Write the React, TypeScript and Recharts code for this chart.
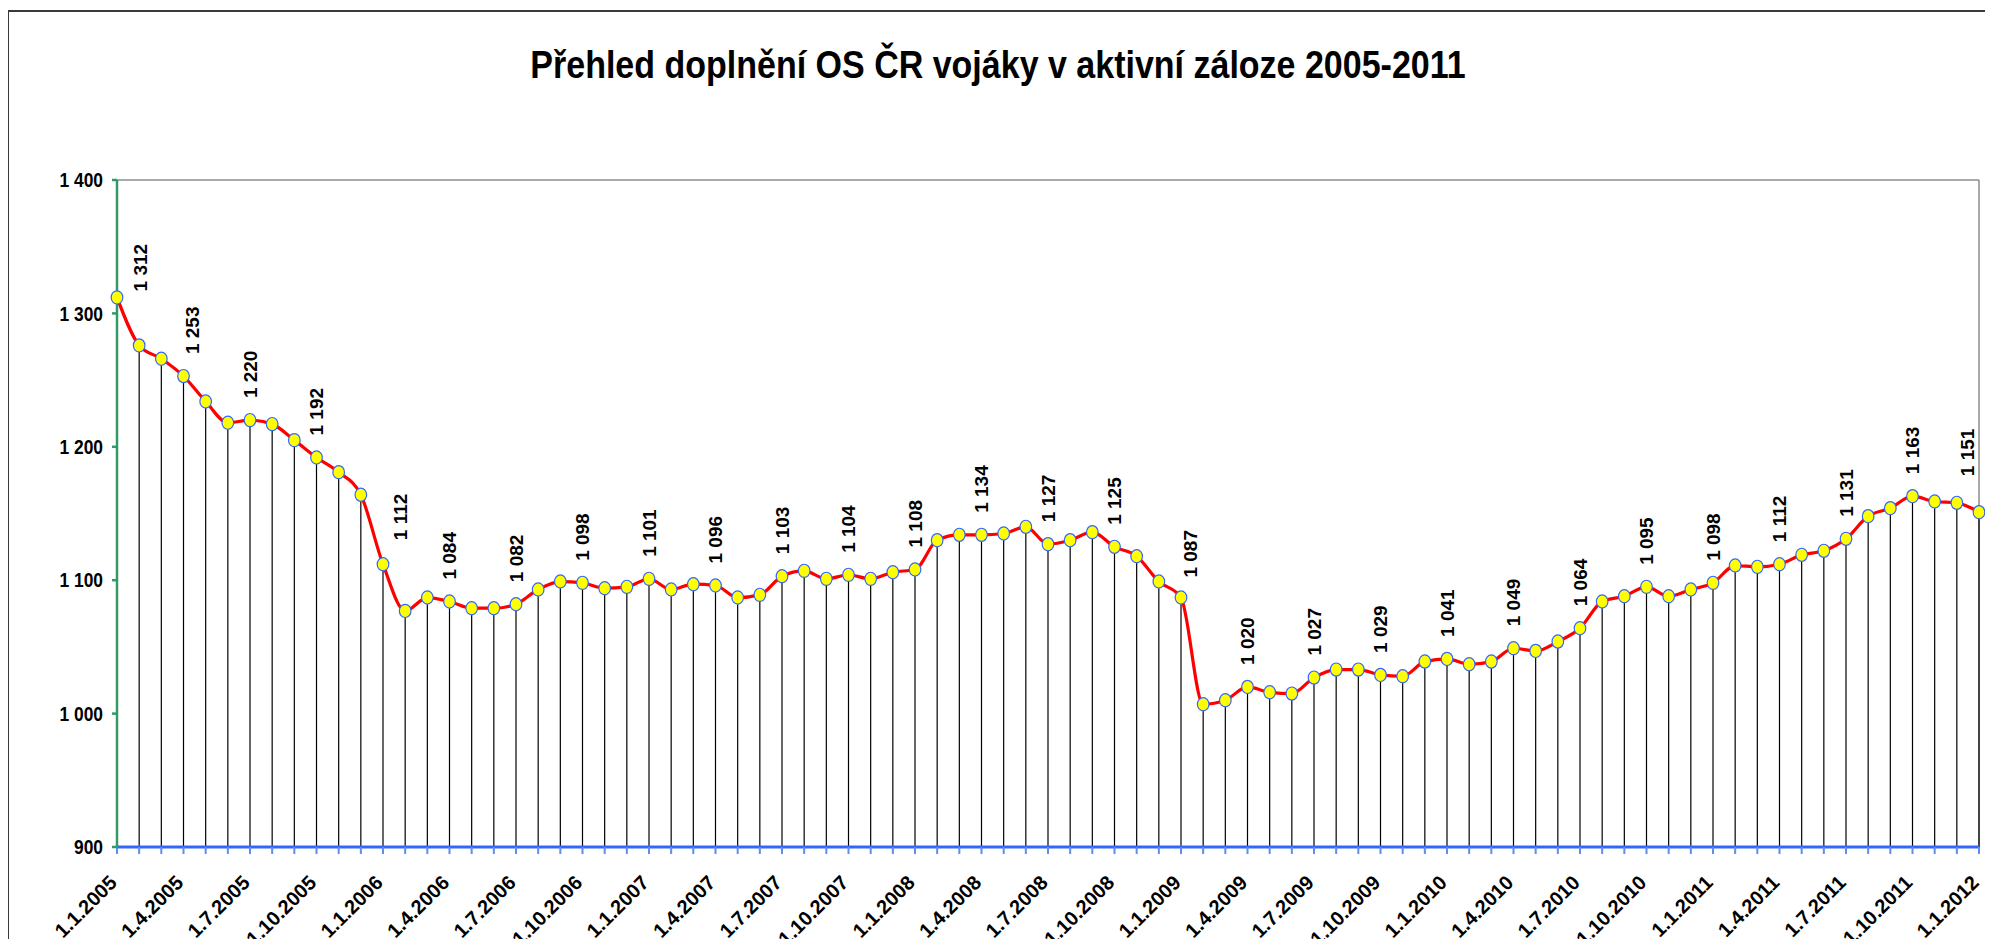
import React from "react";
import { LineChart, Line, XAxis, YAxis, ReferenceLine, LabelList } from "recharts";

const categories: string[] = [
  "1.1.2005","1.2.2005","1.3.2005","1.4.2005","1.5.2005","1.6.2005","1.7.2005","1.8.2005","1.9.2005","1.10.2005","1.11.2005","1.12.2005",
  "1.1.2006","1.2.2006","1.3.2006","1.4.2006","1.5.2006","1.6.2006","1.7.2006","1.8.2006","1.9.2006","1.10.2006","1.11.2006","1.12.2006",
  "1.1.2007","1.2.2007","1.3.2007","1.4.2007","1.5.2007","1.6.2007","1.7.2007","1.8.2007","1.9.2007","1.10.2007","1.11.2007","1.12.2007",
  "1.1.2008","1.2.2008","1.3.2008","1.4.2008","1.5.2008","1.6.2008","1.7.2008","1.8.2008","1.9.2008","1.10.2008","1.11.2008","1.12.2008",
  "1.1.2009","1.2.2009","1.3.2009","1.4.2009","1.5.2009","1.6.2009","1.7.2009","1.8.2009","1.9.2009","1.10.2009","1.11.2009","1.12.2009",
  "1.1.2010","1.2.2010","1.3.2010","1.4.2010","1.5.2010","1.6.2010","1.7.2010","1.8.2010","1.9.2010","1.10.2010","1.11.2010","1.12.2010",
  "1.1.2011","1.2.2011","1.3.2011","1.4.2011","1.5.2011","1.6.2011","1.7.2011","1.8.2011","1.9.2011","1.10.2011","1.11.2011","1.12.2011",
  "1.1.2012",
];

const reservists: number[] = [
  1312, 1276, 1266, 1253, 1234, 1218, 1220, 1217, 1205, 1192, 1181, 1164,
  1112, 1077, 1087, 1084, 1079, 1079, 1082, 1093, 1099, 1098, 1094, 1095,
  1101, 1093, 1097, 1096, 1087, 1089, 1103, 1107, 1101, 1104, 1101, 1106,
  1108, 1130, 1134, 1134, 1135, 1140, 1127, 1130, 1136, 1125, 1118, 1099,
  1087, 1007, 1010, 1020, 1016, 1015, 1027, 1033, 1033, 1029, 1028, 1039,
  1041, 1037, 1039, 1049, 1047, 1054, 1064, 1084, 1088, 1095, 1088, 1093,
  1098, 1111, 1110, 1112, 1119, 1122, 1131, 1148, 1154, 1163, 1159, 1158,
  1151,
];

const yTicks: number[] = [900, 1000, 1100, 1200, 1300, 1400];

const title = "Přehled doplnění OS ČR vojáky v aktivní záloze 2005-2011";

const data = categories.map((c, i) => ({ date: c, value: reservists[i] }));

const FONT = "'Liberation Sans', Arial, Helvetica, sans-serif";

const fmt = (v: number) => {
  const s = String(Math.round(v));
  return s.replace(/\B(?=(\d{3})+(?!\d))/g, " ");
};

const YTick = (props: any) => {
  const { x, y, payload } = props;
  return (
    <text
      transform={`translate(${x},${y}) scale(0.87,1)`}
      textAnchor="end"
      dy="0.36em"
      fontFamily={FONT}
      fontWeight="bold"
      fontSize={20}
      fill="#000"
    >
      {fmt(payload.value)}
    </text>
  );
};

const XTick = (props: any) => {
  const { x, y, payload } = props;
  const idx = payload?.index ?? props.index;
  if (idx % 3 !== 0) return null;
  return (
    <text
      transform={`translate(${x + 1},${y + 28}) rotate(-45)`}
      textAnchor="end"
      fontFamily={FONT}
      fontWeight="bold"
      fontSize={20}
      fill="#000"
    >
      {payload.value}
    </text>
  );
};

const labelShift: Record<number, { dx: number; dy: number }> = {
  0: { dx: 23, dy: 16 },
  3: { dx: 9, dy: 0 },
  12: { dx: 17, dy: -2 },
  48: { dx: 9, dy: 2 },
  84: { dx: -12, dy: -14 },
};

const ValueLabel = (props: any) => {
  const { x, y, value, index } = props;
  if (index % 3 !== 0) return null;
  const s = labelShift[index] || { dx: 0, dy: 0 };
  return (
    <text
      transform={`translate(${x + s.dx},${y - 22 + s.dy}) rotate(-90)`}
      textAnchor="start"
      dy="0.36em"
      fontFamily={FONT}
      fontWeight="bold"
      fontSize={19}
      fill="#000"
    >
      {fmt(value)}
    </text>
  );
};

const Dot = (props: any) => {
  const { cx, cy, index } = props;
  if (cx == null || cy == null) return null;
  return (
    <ellipse
      key={`d${index}`}
      cx={cx}
      cy={cy}
      rx={5.8}
      ry={6.6}
      fill="#ffff00"
      stroke="#3366ff"
      strokeWidth={1.2}
    />
  );
};

export default function App() {
  return (
    <div
      style={{
        position: "relative",
        left: -1,
        top: 2,
        width: 2000,
        height: 1000,
        border: "2px solid #3a3a3a",
        background: "#fff",
      }}
    >
      <svg
        width={2000}
        height={120}
        style={{ position: "absolute", left: 0, top: 0, pointerEvents: "none" }}
      >
        <text
          transform="translate(989,66) scale(0.895,1)"
          textAnchor="middle"
          fontFamily={FONT}
          fontWeight="bold"
          fontSize={38}
          fill="#000"
        >
          {title}
        </text>
      </svg>
      <LineChart
        width={2000}
        height={1000}
        data={data}
        margin={{ top: 168, right: 30, bottom: 85, left: 8 }}
      >
        <XAxis
          dataKey="date"
          interval={0}
          height={80}
          axisLine={{ stroke: "#3366ff", strokeWidth: 3 }}
          tickLine={{ stroke: "#5b8bff", strokeWidth: 2 }}
          tickSize={7}
          tickMargin={2}
          tick={<XTick />}
        />
        <YAxis
          domain={[900, 1400]}
          ticks={yTicks}
          width={100}
          axisLine={{ stroke: "#339966", strokeWidth: 2.5 }}
          tickLine={{ stroke: "#339966", strokeWidth: 2.5 }}
          tickSize={5}
          tickMargin={9}
          tick={<YTick />}
          allowDataOverflow
        />
        <ReferenceLine y={1400} stroke="#8c8c8c" strokeWidth={1.5} />
        <ReferenceLine x={categories[categories.length - 1]} stroke="#8c8c8c" strokeWidth={1.5} />
        {data.map((d) => (
          <ReferenceLine
            key={`drop-${d.date}`}
            segment={[
              { x: d.date, y: yTicks[0] },
              { x: d.date, y: d.value },
            ]}
            stroke="#000"
            strokeWidth={1.2}
          />
        ))}
        <Line
          type="monotone"
          dataKey="value"
          stroke="#ff0000"
          strokeWidth={3.2}
          dot={<Dot />}
          activeDot={false}
          isAnimationActive={false}
        >
          <LabelList dataKey="value" content={<ValueLabel />} />
        </Line>
      </LineChart>
    </div>
  );
}
